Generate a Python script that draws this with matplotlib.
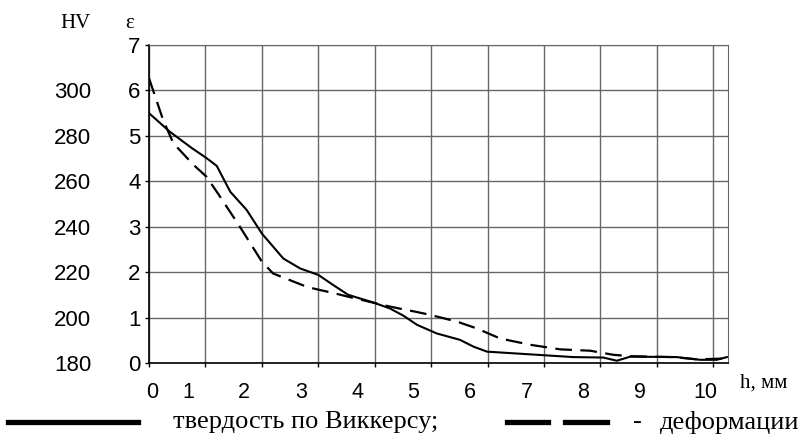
import matplotlib
matplotlib.use("Agg")
import matplotlib.pyplot as plt
from matplotlib.lines import Line2D

# ---- data ----
h_hv = [0, 0.37, 0.76, 1.02, 1.2, 1.44, 1.73, 2.0, 2.38, 2.68, 3.0, 3.26, 3.53,
        3.98, 4.27, 4.51, 4.75, 5.10, 5.51, 5.75, 5.99, 6.63, 7.52, 8.05, 8.29,
        8.53, 9.35, 9.77, 10.06, 10.24]
hv = [290, 281.8, 274.6, 270.2, 266.8, 255.4, 247.4, 237, 226, 221.6, 218.8,
      214.4, 210, 206.6, 204.0, 200.8, 196.8, 193, 190.2, 187.2, 185, 184,
      182.6, 182.4, 181, 182.8, 182.6, 181.4, 181.4, 182.6]

h_eps = [0, 0.25, 0.43, 0.79, 1.02, 1.26, 1.61, 1.91, 2.0, 2.2, 2.81, 3.09, 3.30,
         3.56, 4.24, 4.51, 4.72, 4.98, 5.46, 5.81, 6.22, 6.76, 7.29, 7.82, 8.23,
         8.53, 9.29, 9.71, 10.24]
eps = [6.27, 5.35, 4.84, 4.36, 4.10, 3.66, 3.0, 2.41, 2.23, 1.97, 1.67, 1.59,
       1.53, 1.45, 1.25, 1.18, 1.13, 1.06, 0.91, 0.76, 0.54, 0.40, 0.30, 0.27,
       0.18, 0.15, 0.13, 0.08, 0.10]

x_ticks = list(range(0, 11))
x_tick_labels = [str(v) for v in x_ticks]
eps_ticks = list(range(0, 8))
hv_ticks = [180, 200, 220, 240, 260, 280, 300]

# layout-only label positions (labels sit left of grid lines in the original)
x_label_pos = [0.05, 0.69, 1.68, 2.69, 3.69, 4.68, 5.69, 6.70, 7.69, 8.70, 9.86]

HV0, HVSTEP = 180.0, 20.0
def hv_to_eps(v):
    return (v - HV0) / HVSTEP
def eps_to_hv(e):
    return HV0 + HVSTEP * e

SANS = "Liberation Sans"
SERIF = "Liberation Serif"
GRID = "#666666"

fig = plt.figure(figsize=(8.03, 4.34), dpi=100)
ax = fig.add_axes([149/803, 1 - 363/434, (728-149)/803, (363-45)/434])

ax.set_xlim(0, 10.26)
ax.set_ylim(0, 7)

ax.plot(h_hv, [hv_to_eps(v) for v in hv], color="black", lw=1.5,
        solid_joinstyle="round")
ax.plot(h_eps, eps, color="black", lw=1.6, dashes=(7.5, 3.8))

ax.set_xticks(x_ticks)
ax.set_xticklabels([])
ax.set_xticks(x_label_pos, minor=True)
ax.set_xticklabels(x_tick_labels, minor=True, fontfamily=SANS, fontsize=15.5)
ax.tick_params(axis="x", which="major", direction="out", length=3, width=1,
               color="black")
ax.tick_params(axis="x", which="minor", length=0, pad=14)

ax.set_yticks(eps_ticks)
ax.set_yticklabels([str(v) for v in eps_ticks], fontfamily=SANS, fontsize=16)
ax.tick_params(axis="y", direction="out", length=3, width=1, pad=3)

ax.grid(True, which="major", color=GRID, lw=1)
for s in ("top", "right"):
    ax.spines[s].set_color(GRID)
for s in ("left", "bottom"):
    ax.spines[s].set_color("black")
    ax.spines[s].set_linewidth(1.2)

sec = ax.secondary_yaxis(-0.097, functions=(eps_to_hv, hv_to_eps))
sec.set_yticks(hv_ticks)
sec.set_yticklabels([str(v) for v in hv_ticks], fontfamily=SANS, fontsize=16)
sec.tick_params(length=0, pad=1)
sec.spines["left"].set_visible(False)

# axis captions
fig.text(76/803, 1 - 24/434, "HV", fontfamily=SERIF, fontsize=15,
         ha="center", va="center")
fig.text(130/803, 1 - 24/434, "ε", fontfamily=SERIF, fontsize=15,
         ha="center", va="center")
fig.text(740/803, 1 - 383/434, "h, мм", fontfamily=SERIF, fontsize=15,
         ha="left", va="center")

# legend drawn under the chart
ly = 1 - 422/434
fig.add_artist(Line2D([8/803, 138/803], [ly, ly], color="black", lw=3.8,
                      transform=fig.transFigure))
fig.text(173/803, ly, "твердость по Виккерсу;", fontfamily=SERIF, fontsize=19,
         ha="left", va="center")
for x0, x1 in ((507, 548), (565, 607)):
    fig.add_artist(Line2D([x0/803, x1/803], [ly, ly], color="black", lw=3.8,
                          transform=fig.transFigure))
fig.text(637/803, ly, "-", fontfamily=SERIF, fontsize=19, ha="center",
         va="center")
fig.text(660/803, ly, "деформации", fontfamily=SERIF, fontsize=19,
         ha="left", va="center")

fig.savefig("out.png", dpi=100)
